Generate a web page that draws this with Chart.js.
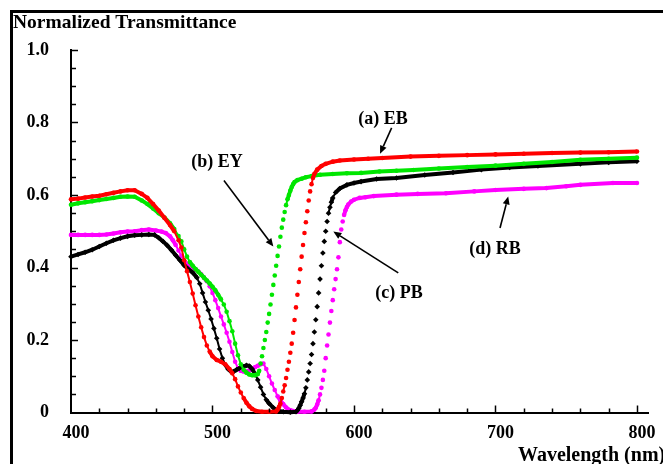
<!DOCTYPE html>
<html><head><meta charset="utf-8">
<script src="https://cdn.jsdelivr.net/npm/chart.js@4.4.0/dist/chart.umd.min.js"></script>
<style>
html,body{margin:0;padding:0;background:#fff;overflow:hidden;}
#wrap{position:relative;width:663px;height:464px;overflow:hidden;}
#frame{position:absolute;left:10px;top:10px;width:700px;height:500px;border-left:3px solid #000;border-top:3px solid #000;pointer-events:none;}
canvas{position:absolute;left:0;top:0;}
</style></head><body>
<div id="wrap"><canvas id="c" width="663" height="464"></canvas><div id="frame"></div></div>
<script>
// ---- data ----
const ebX = [400,405,410,415,420,425,430,435,440,445,450,454,458,462,466,470,473,476,478,480,482,484,486,488,490,492,494,496,498,500,503,506,509,512,514,516,518,520,522,524,526,528,531,535,540,545,546,547,548,549,550,551,552,553,554,555,556,557,558,559,560,561,562,563,564,565,566,567,568,569,570,571,572,574,577,580,585,590,600,610,620,640,660,680,700,720,740,760,780,800];
const ebY = [.588,.590,.593,.596,.598,.602,.606,.610,.613,.613,.603,.592,.575,.557,.537,.517,.500,.475,.455,.420,.390,.360,.328,.296,.265,.235,.208,.185,.168,.155,.145,.140,.133,.120,.108,.092,.072,.055,.040,.027,.017,.010,.004,.002,.002,.003,.008,.015,.025,.040,.058,.075,.095,.118,.140,.165,.190,.220,.255,.290,.325,.360,.395,.430,.462,.495,.525,.555,.585,.610,.630,.647,.658,.670,.680,.686,.692,.695,.698,.700,.702,.706,.708,.710,.712,.714,.716,.717,.718,.720];

const eyX = [400,405,410,415,420,425,430,435,440,445,450,454,458,462,466,470,473,476,478,480,482,484,486,488,490,492,494,496,498,500,502,504,506,508,510,512,514,516,518,520,522,524,526,528,530,532,533,534,535,536,537,538,539,540,541,542,543,544,545,546,547,548,549,550,551,552,553,554,555,556,557,558,560,563,566,570,576,585,595,605,618,630,642,660,680,700,720,740,760,780,800];
const eyY = [.573,.577,.580,.583,.586,.589,.592,.595,.596,.595,.585,.575,.563,.550,.538,.522,.506,.487,.472,.450,.430,.415,.405,.396,.388,.380,.372,.364,.356,.347,.337,.325,.312,.298,.278,.252,.224,.190,.158,.133,.118,.110,.105,.103,.103,.106,.115,.135,.155,.178,.200,.222,.248,.272,.298,.325,.352,.378,.405,.432,.458,.485,.510,.532,.553,.572,.588,.600,.612,.622,.630,.636,.641,.645,.649,.652,.656,.658,.660,.661,.665,.667,.669,.673,.677,.681,.686,.691,.697,.700,.703];

const pbX = [400,405,410,415,420,425,430,435,440,445,450,455,459,462,465,468,471,474,477,480,483,486,489,491,493,495,497,499,501,503,505,507,509,511,513,515,517,519,522,524,526,528,530,532,534,536,538,540,543,546,550,555,559,560,561,562,563,564,565,566,567,568,569,570,571,572,573,574,575,576,577,578,579,580,581,582,583,584,585,587,590,595,600,605,616,630,650,670,690,710,730,760,780,800];
const pbY = [.430,.436,.442,.449,.458,.467,.475,.481,.486,.489,.490,.491,.490,.482,.472,.461,.448,.434,.420,.406,.395,.386,.372,.355,.330,.305,.282,.258,.232,.205,.175,.150,.132,.120,.113,.113,.118,.122,.127,.130,.128,.120,.107,.090,.070,.050,.035,.025,.013,.005,.002,.001,.002,.006,.012,.020,.030,.040,.052,.068,.090,.112,.135,.160,.190,.222,.256,.292,.330,.368,.405,.440,.472,.500,.527,.550,.566,.580,.592,.607,.618,.628,.633,.637,.644,.647,.655,.662,.670,.676,.680,.686,.690,.693];

const rbX = [400,405,410,415,420,425,430,435,440,445,450,455,460,464,467,470,472,474,476,478,480,482,484,486,488,490,492,494,496,498,500,502,504,506,508,510,512,514,516,518,520,522,524,526,528,530,532,534,536,538,540,542,544,546,548,550,552,555,560,565,570,572,573,574,575,576,577,578,579,580,581,582,583,584,585,586,587,588,589,590,591,592,593,594,595,596,598,600,604,608,614,630,645,665,685,700,720,736,750,760,783,800];
const rbY = [.490,.490,.490,.490,.490,.491,.494,.497,.499,.500,.503,.505,.502,.499,.495,.486,.475,.462,.447,.432,.418,.410,.404,.399,.395,.389,.381,.372,.362,.348,.330,.310,.288,.265,.243,.220,.195,.167,.140,.122,.115,.113,.113,.116,.120,.125,.129,.133,.135,.120,.100,.080,.062,.045,.033,.023,.014,.006,.002,.002,.003,.008,.013,.022,.034,.050,.068,.090,.115,.150,.185,.215,.248,.280,.310,.340,.368,.395,.428,.470,.505,.527,.545,.558,.567,.574,.582,.587,.592,.594,.597,.601,.603,.605,.610,.614,.617,.619,.624,.628,.633,.633];

const seriesNames = ['(a) EB','(b) EY','(c) PB','(d) RB'];
const seriesColors = ['#ff0000','#00e600','#000000','#ff00ff'];

const xTickValues = [400,500,600,700,800];
const yTickValues = [0,0.2,0.4,0.6,0.8,1.0];
const yTickLabels = ['0','0.2','0.4','0.6','0.8','1.0'];

// annotation labels and arrows (data coordinates)
const annLabels = ['(a) EB','(b) EY','(c) PB','(d) RB'];
const annTextX = [620.5,503.2,631.8,699.6];
const annTextY = [0.808,0.689,0.330,0.449];
const arrowFromX = [626.6,508.1,631.3,703.2];
const arrowFromY = [0.785,0.640,0.385,0.509];
const arrowToX = [618.4,543.0,585.4,709.0];
const arrowToY = [0.714,0.458,0.499,0.596];

const titleText = 'Normalized Transmittance';
const xTitleText = 'Wavelength (nm)';

const FONT = 'Liberation Serif';

function pts(xs, ys){ return xs.map((x,i)=>({x:x, y:ys[i]})); }

const tickPlugin = {
  id:'innerTicks',
  afterDatasetsDraw(chart){
    const ctx = chart.ctx, xs = chart.scales.x, ys = chart.scales.y;
    ctx.save();
    ctx.strokeStyle = '#000'; ctx.lineWidth = 1.5;
    for (let v = 420; v <= 800; v += 20){
      const px = Math.round(xs.getPixelForValue(v)) + 0.5;
      const len = (v % 100 === 0) ? 7 : 4;
      ctx.beginPath(); ctx.moveTo(px, xs.top); ctx.lineTo(px, xs.top - len); ctx.stroke();
    }
    for (let i = 1; i <= 20; i++){
      const py = Math.round(ys.getPixelForValue(i*0.05)) + 0.5;
      const len = (i % 4 === 0) ? 7 : 5;
      ctx.beginPath(); ctx.moveTo(ys.right, py); ctx.lineTo(ys.right + len, py); ctx.stroke();
    }
    ctx.restore();
  }
};

const annPlugin = {
  id:'annotations',
  afterDraw(chart){
    const ctx = chart.ctx, xs = chart.scales.x, ys = chart.scales.y;
    ctx.save();
    ctx.fillStyle = '#000'; ctx.strokeStyle = '#000';
    ctx.font = 'bold 18px "' + FONT + '"';
    ctx.textAlign = 'center'; ctx.textBaseline = 'middle';
    annLabels.forEach((t,i)=>{
      ctx.fillText(t, xs.getPixelForValue(annTextX[i]), ys.getPixelForValue(annTextY[i]));
      const x0 = xs.getPixelForValue(arrowFromX[i]), y0 = ys.getPixelForValue(arrowFromY[i]);
      const x1 = xs.getPixelForValue(arrowToX[i]), y1 = ys.getPixelForValue(arrowToY[i]);
      const a = Math.atan2(y1-y0, x1-x0), hl = 8, hw = 3.5;
      const bx = x1 - hl*Math.cos(a), by = y1 - hl*Math.sin(a);
      ctx.lineWidth = 1.6;
      ctx.beginPath(); ctx.moveTo(x0,y0); ctx.lineTo(bx,by); ctx.stroke();
      ctx.beginPath();
      ctx.moveTo(x1,y1);
      ctx.lineTo(bx + hw*Math.sin(a), by - hw*Math.cos(a));
      ctx.lineTo(bx - hw*Math.sin(a), by + hw*Math.cos(a));
      ctx.closePath(); ctx.fill();
    });
    // x axis title
    ctx.font = 'bold 20px "' + FONT + '"';
    ctx.textAlign = 'left'; ctx.textBaseline = 'alphabetic';
    ctx.fillText(xTitleText, 518, 461);
    ctx.restore();
  }
};

function steepness(ctx){
  const dx = Math.abs(ctx.p1.x - ctx.p0.x), dy = Math.abs(ctx.p1.y - ctx.p0.y);
  return { dx: dx, dy: dy };
}

function makeDataset(i, xs, ys, style, r){
  return {
    label: seriesNames[i],
    data: pts(xs, ys),
    borderColor: seriesColors[i],
    backgroundColor: seriesColors[i],
    pointBackgroundColor: seriesColors[i],
    pointBorderWidth: 0,
    pointRadius: r,
    pointStyle: style,
    borderWidth: 4,
    tension: 0,
    clip: 8,
    segment: {
      // very steep stretches show as separate dots, moderately steep ones as a beaded chain
      borderColor: ctx => {
        const s = steepness(ctx);
        return (s.dy > 4 && s.dy > 4.6 * s.dx) ? 'rgba(0,0,0,0)' : undefined;
      },
      borderWidth: ctx => {
        const s = steepness(ctx);
        return (s.dy > 5 && s.dy > 1.6 * s.dx) ? 2 : undefined;
      }
    }
  };
}

new Chart(document.getElementById('c'), {
  type: 'scatter',
  data: {
    datasets: [
      makeDataset(0, ebX, ebY, 'circle', 2.3),
      makeDataset(1, eyX, eyY, 'circle', 2.3),
      makeDataset(2, pbX, pbY, 'rectRot', 2.8),
      makeDataset(3, rbX, rbY, 'circle', 2.3)
    ]
  },
  options: {
    responsive: false,
    animation: false,
    devicePixelRatio: 1,
    showLine: true,
    layout: { padding: { left: 13, top: 0, right: 14.7, bottom: 0 } },
    plugins: {
      legend: { display: false },
      tooltip: { enabled: false },
      title: {
        display: true, text: titleText, align: 'start', color: '#000',
        font: { family: FONT, size: 19.5, weight: 'bold', lineHeight: 1.2 },
        padding: { top: 11.3, bottom: 15.3 }
      }
    },
    scales: {
      x: {
        type: 'linear', min: 400, max: 808,
        afterBuildTicks: s => { s.ticks = xTickValues.map(v => ({ value: v })); },
        afterFit: s => { s.height = 51.5; },
        grid: { display: false, drawTicks: false },
        border: { display: true, color: '#000', width: 2 },
        ticks: { autoSkip: false, maxRotation: 0, padding: 10, labelOffset: 5, color: '#000',
                 font: { family: FONT, size: 18, weight: 'bold' },
                 callback: v => String(v) }
      },
      y: {
        type: 'linear', min: 0, max: 1.0,
        afterBuildTicks: s => { s.ticks = yTickValues.map(v => ({ value: v })); },
        afterFit: s => { s.width = 58; },
        grid: { display: false, drawTicks: false },
        border: { display: true, color: '#000', width: 2 },
        ticks: { autoSkip: false, padding: 22, color: '#000',
                 font: { family: FONT, size: 18, weight: 'bold' },
                 callback: (v, i) => yTickLabels[i] }
      }
    }
  },
  plugins: [tickPlugin, annPlugin]
});
</script>
</body></html>
